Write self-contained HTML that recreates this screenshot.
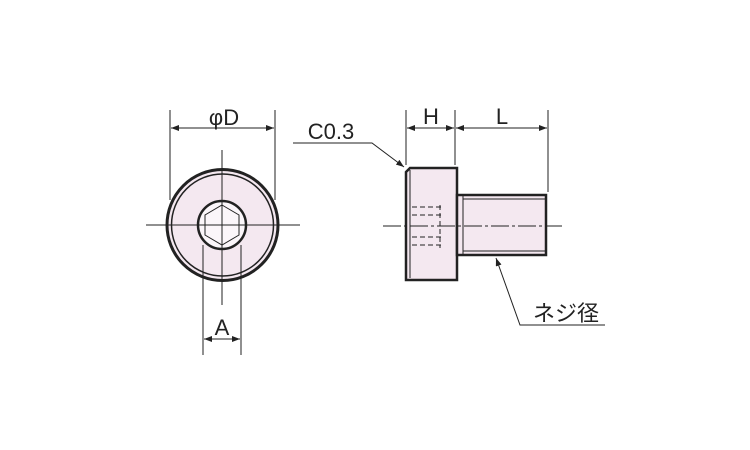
<!DOCTYPE html>
<html><head><meta charset="utf-8"><style>body{margin:0;background:#fff}svg{display:block}</style></head><body>
<svg width="750" height="450" viewBox="0 0 750 450" xmlns="http://www.w3.org/2000/svg" font-family="Liberation Sans, Noto Sans CJK JP, sans-serif">
<defs><marker id="a" markerWidth="8" markerHeight="6" refX="8" refY="3" orient="auto-start-reverse" markerUnits="userSpaceOnUse"><path d="M0,0L8,3L0,6z" fill="#222"/></marker></defs>
<g stroke="#222" fill="none">
<circle cx="222.5" cy="225" r="55.5" fill="#f4e8f0" stroke-width="3"/>
<circle cx="222.5" cy="225" r="51" stroke-width="1.5"/>
<circle cx="222" cy="225" r="24" fill="#fbf6fa" stroke-width="2.5"/>
<polygon points="222,205 239,215 239,235 222,245 205,235 205,215" stroke-width="1"/>
<line x1="146" y1="225" x2="300" y2="225" stroke-width="1"/>
<line x1="222" y1="150" x2="222" y2="305" stroke-width="1"/>
<line x1="170" y1="110" x2="170" y2="200" stroke-width="1"/>
<line x1="275" y1="110" x2="275" y2="200" stroke-width="1"/>
<line x1="171" y1="128" x2="274" y2="128" stroke-width="1" marker-start="url(#a)" marker-end="url(#a)"/>
<line x1="203" y1="245" x2="203" y2="355" stroke-width="1"/>
<line x1="241" y1="245" x2="241" y2="355" stroke-width="1"/>
<line x1="204" y1="339" x2="240" y2="339" stroke-width="1" marker-start="url(#a)" marker-end="url(#a)"/>
<path d="M410,168 L457,168 L457,280 L406,280 L406,172 Z" fill="#f4e8f0" stroke-width="2.5"/>
<line x1="410" y1="170" x2="410" y2="278" stroke-width="1"/>
<rect x="457" y="195" width="89" height="60" fill="#f4e8f0" stroke-width="2.5"/>
<line x1="463" y1="196" x2="463" y2="254" stroke-width="1"/>
<line x1="463" y1="199" x2="545" y2="199" stroke-width="1"/>
<line x1="463" y1="251" x2="545" y2="251" stroke-width="1"/>
<g stroke-width="1" stroke-dasharray="5,3">
<line x1="412" y1="207" x2="443" y2="207"/><line x1="412" y1="215" x2="443" y2="215"/>
<line x1="412" y1="237" x2="443" y2="237"/><line x1="412" y1="245" x2="443" y2="245"/>
<line x1="440" y1="205" x2="440" y2="248"/>
</g>
<line x1="383" y1="226" x2="562" y2="226" stroke-width="1" stroke-dasharray="18,3,3,3"/>
<line x1="406" y1="110" x2="406" y2="165" stroke-width="1"/>
<line x1="455" y1="110" x2="455" y2="165" stroke-width="1"/>
<line x1="548" y1="110" x2="548" y2="192" stroke-width="1"/>
<line x1="407" y1="128" x2="454" y2="128" stroke-width="1" marker-start="url(#a)" marker-end="url(#a)"/>
<line x1="456" y1="128" x2="547" y2="128" stroke-width="1" marker-start="url(#a)" marker-end="url(#a)"/>
<polyline points="293,143 372,143 404,167" stroke-width="1" marker-end="url(#a)"/>
<polyline points="605,325 520,325 496,258" stroke-width="1" marker-end="url(#a)"/>
</g>
<g fill="#222" font-size="22" text-anchor="middle">
<text x="224" y="125">φD</text>
<text x="222" y="335">A</text>
<text x="431" y="124">H</text>
<text x="502" y="124">L</text>
<text x="331" y="139">C0.3</text>
<text x="566" y="321">ネジ径</text>
</g>
</svg>
</body></html>
